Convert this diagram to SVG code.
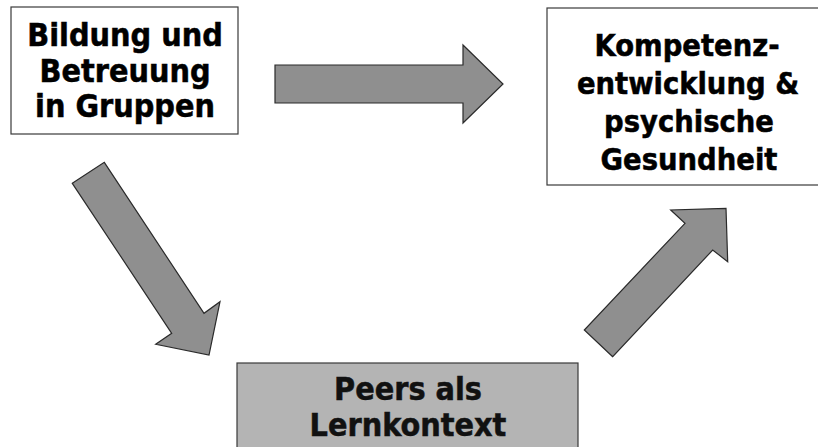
<svg xmlns="http://www.w3.org/2000/svg" width="818" height="447" viewBox="0 0 818 447">
<style>
.box{fill:#ffffff;stroke:#3a3a3a;stroke-width:1.2}
.grey{fill:#b4b4b4}
.arrow{fill:#8f8f8f;stroke:#2a2a2a;stroke-width:1.2;stroke-linejoin:miter}
.t{font-family:"DejaVu Sans Condensed","DejaVu Sans",sans-serif;font-stretch:condensed;font-weight:bold;font-size:32px;fill:#000;stroke:#000;stroke-width:0.5;text-anchor:middle}
.t2{font-size:30.5px}
.t3{fill:#111;stroke:#111}
</style>
<rect width="818" height="447" fill="#ffffff"/>
<g id="connectors">
<polygon class="arrow" points="275,65 463,65 463,45 503,84 463,123 463,103 275,103"/>
<polygon class="arrow" points="72.3,183.3 104.3,162.3 204,313.3 220,301.7 209,355 155.7,344.3 171.7,333.3"/>
<polygon class="arrow" points="612.7,356.7 584.3,330 685,223.3 670.7,210 726,208.3 727.7,261.7 712.7,250"/>
</g>
<g id="node-bildung">
<rect class="box" x="11" y="7" width="227" height="127"/>
<text class="t" x="125" y="46">Bildung und</text>
<text class="t" x="125" y="82">Betreuung</text>
<text class="t" x="125" y="117">in Gruppen</text>
</g>
<g id="node-kompetenz">
<rect class="box" x="547" y="8" width="272" height="177"/>
<text class="t t2" x="687" y="56">Kompetenz-</text>
<text class="t t2" x="688" y="94">entwicklung &amp;</text>
<text class="t t2" x="689" y="132">psychische</text>
<text class="t t2" x="689" y="170">Gesundheit</text>
</g>
<g id="node-peers">
<rect class="box grey" x="237" y="363" width="341" height="90"/>
<text class="t t3" x="408" y="400">Peers als</text>
<text class="t t3" x="408" y="436">Lernkontext</text>
</g>
</svg>
